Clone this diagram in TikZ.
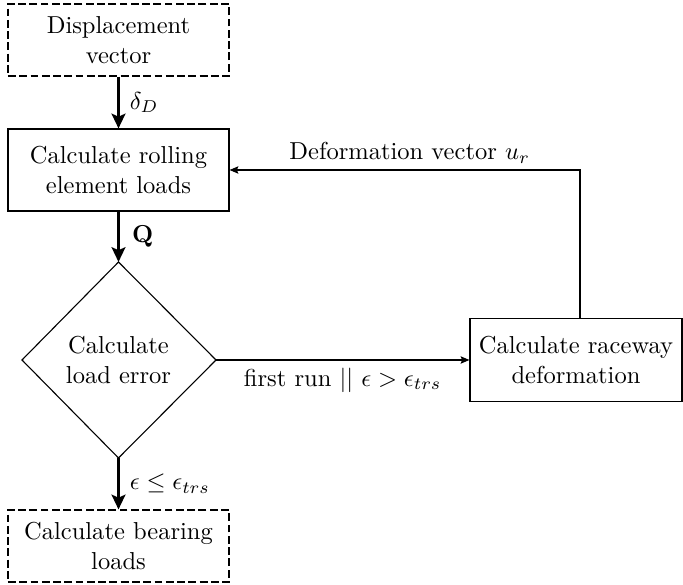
\documentclass[tikz,border=0pt]{standalone}
\usetikzlibrary{arrows.meta}
\begin{document}
\begin{tikzpicture}[x=0.408pt,y=-0.408pt,
  solidbox/.style={draw,line width=0.45pt,minimum width=221*0.408pt,minimum height=82*0.408pt,align=center,inner sep=0pt},
  dashbox/.style={draw,dash pattern=on 3.2pt off 1.4pt,line width=0.45pt,minimum width=221*0.408pt,minimum height=72*0.408pt,align=center,inner sep=0pt},
  bigarrow/.style={-{Stealth[length=6pt,width=5.6pt,inset=1.2pt]},line width=1.2pt},
  smallarrow/.style={-{Stealth[length=3.6pt,width=3pt,inset=0.6pt]},line width=0.45pt},
  lbl/.style={inner sep=0pt}]
\useasboundingbox (0,0) rectangle (683,585);
\node[dashbox] (disp) at (118.5,40) {Displacement\\vector};
\node[solidbox] (roll) at (118.5,170) {Calculate rolling\\element loads};
\coordinate (dtop) at (118.5,262);
\coordinate (dbot) at (118.5,458);
\coordinate (dleft) at (22,360);
\coordinate (dright) at (216,360);
\draw[line width=0.45pt] (dtop) -- (dright) -- (dbot) -- (dleft) -- cycle;
\node[lbl,align=center] (dtext) at (118.5,360) {Calculate\\load error};
\node[draw,line width=0.45pt,minimum width=212*0.408pt,minimum height=83*0.408pt,align=center,inner sep=0pt] (race) at (576,360) {Calculate raceway\\deformation};
\node[dashbox] (bear) at (118.5,546) {Calculate bearing\\loads};
\draw[bigarrow] (disp.south) -- (roll.north) node[lbl,midway,right=4pt] {$\delta_D$};
\draw[bigarrow] (roll.south) -- (dtop) node[lbl,midway,right=5pt] {$\mathbf{Q}$};
\draw[bigarrow] (dbot) -- (bear.north) node[lbl,midway,right=4pt] {$\epsilon \leq \epsilon_{trs}$};
\draw[smallarrow] (dright) -- (race.west) node[lbl,midway,below=3pt] {first run $||$ $\epsilon > \epsilon_{trs}$};
\draw[smallarrow] (race.north -| 580,0) |- (roll.east) node[lbl,pos=0.75,above=2.5pt,xshift=2pt] {Deformation vector $u_r$};
\end{tikzpicture}
\end{document}
